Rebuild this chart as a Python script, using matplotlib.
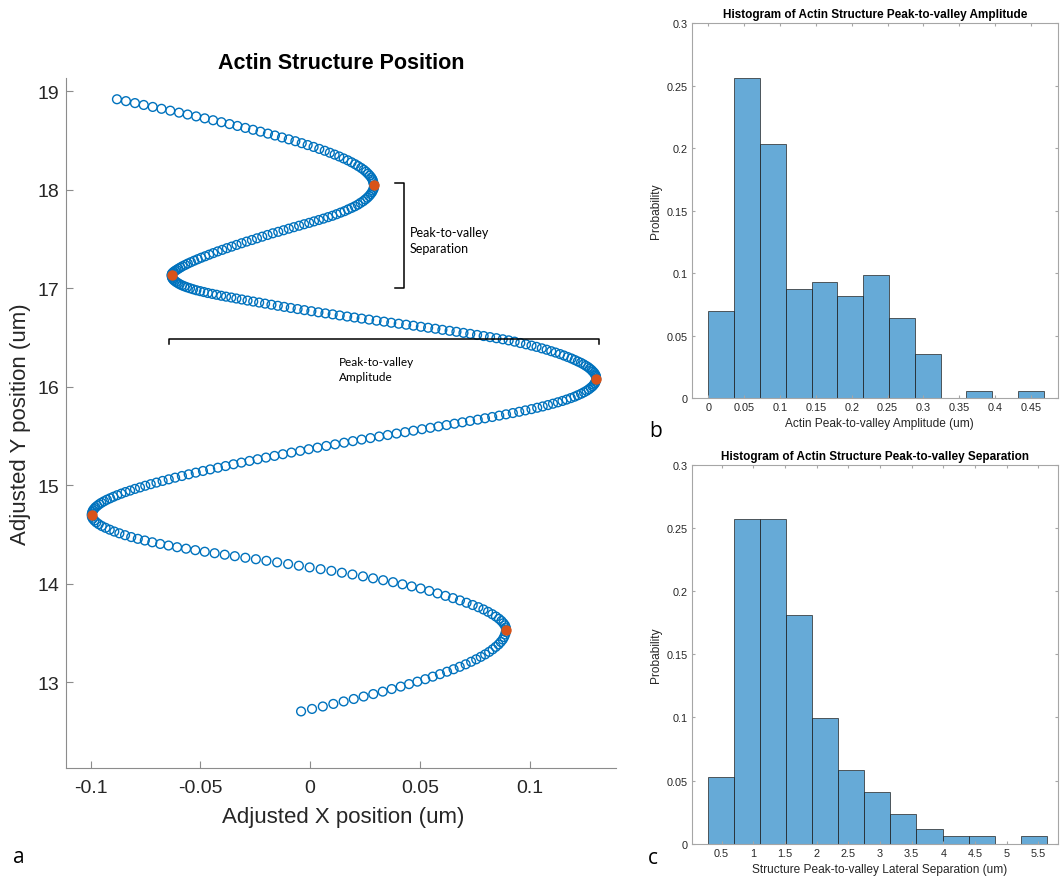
import matplotlib
matplotlib.use('Agg')
import matplotlib.pyplot as plt

# ---- panel a: actin structure track (arm by arm) ----
arm1_x = [-0.0880, -0.0839, -0.0798, -0.0758, -0.0717, -0.0677, -0.0637, -0.0597, -0.0558, -0.0519,
          -0.0480, -0.0442, -0.0404, -0.0367, -0.0331, -0.0295, -0.0260, -0.0226, -0.0192, -0.0160,
          -0.0128, -0.0097, -0.0067, -0.0038, -0.0011, 0.0016, 0.0042, 0.0067, 0.0090, 0.0112,
          0.0133, 0.0153, 0.0172, 0.0189, 0.0205, 0.0219, 0.0233, 0.0245, 0.0255, 0.0264,
          0.0272, 0.0279, 0.0284, 0.0287, 0.0289]
arm1_y = [18.920, 18.901, 18.881, 18.862, 18.842, 18.823, 18.804, 18.784, 18.765, 18.746,
          18.726, 18.707, 18.687, 18.668, 18.649, 18.629, 18.610, 18.591, 18.571, 18.552,
          18.532, 18.513, 18.494, 18.474, 18.455, 18.436, 18.416, 18.397, 18.377, 18.358,
          18.339, 18.319, 18.300, 18.280, 18.261, 18.242, 18.222, 18.203, 18.184, 18.164,
          18.145, 18.125, 18.106, 18.087, 18.067]

arm2_x = [0.0292, 0.0291, 0.0290, 0.0286, 0.0282, 0.0276, 0.0269, 0.0261, 0.0252, 0.0242,
          0.0230, 0.0218, 0.0204, 0.0189, 0.0173, 0.0157, 0.0139, 0.0121, 0.0102, 0.0082,
          0.0061, 0.0040, 0.0018, -0.0004, -0.0027, -0.0050, -0.0074, -0.0097, -0.0121, -0.0145,
          -0.0170, -0.0194, -0.0218, -0.0242, -0.0265, -0.0289, -0.0312, -0.0335, -0.0357, -0.0379,
          -0.0400, -0.0421, -0.0441, -0.0460, -0.0478, -0.0496, -0.0512, -0.0528, -0.0543, -0.0557,
          -0.0569, -0.0581, -0.0591, -0.0600, -0.0608, -0.0615, -0.0621, -0.0625, -0.0629, -0.0630]
arm2_y = [18.048, 18.030, 18.011, 17.993, 17.975, 17.957, 17.938, 17.920, 17.903, 17.885,
          17.868, 17.850, 17.833, 17.817, 17.801, 17.784, 17.769, 17.753, 17.737, 17.723,
          17.708, 17.694, 17.680, 17.665, 17.651, 17.636, 17.621, 17.606, 17.590, 17.574,
          17.559, 17.542, 17.525, 17.508, 17.491, 17.475, 17.458, 17.441, 17.424, 17.408,
          17.391, 17.375, 17.358, 17.342, 17.326, 17.311, 17.296, 17.281, 17.266, 17.252,
          17.238, 17.225, 17.212, 17.200, 17.188, 17.178, 17.168, 17.159, 17.150, 17.142]

arm3_x = [-0.0631, -0.0630, -0.0629, -0.0626, -0.0622, -0.0616, -0.0610, -0.0602, -0.0594, -0.0584,
          -0.0573, -0.0561, -0.0547, -0.0533, -0.0518, -0.0501, -0.0484, -0.0466, -0.0446, -0.0426,
          -0.0405, -0.0383, -0.0359, -0.0336, -0.0311, -0.0285, -0.0259, -0.0232, -0.0205, -0.0176,
          -0.0147, -0.0118, -0.0088, -0.0057, -0.0026, 0.0006, 0.0038, 0.0070, 0.0103, 0.0135,
          0.0169, 0.0202, 0.0235, 0.0269, 0.0303, 0.0337, 0.0370, 0.0404, 0.0438, 0.0471,
          0.0505, 0.0538, 0.0571, 0.0603, 0.0636, 0.0667, 0.0699, 0.0730, 0.0761, 0.0791,
          0.0820, 0.0849, 0.0878, 0.0905, 0.0932, 0.0958, 0.0984, 0.1009, 0.1032, 0.1056,
          0.1078, 0.1099, 0.1119, 0.1139, 0.1157, 0.1174, 0.1191, 0.1206, 0.1220, 0.1234,
          0.1246, 0.1257, 0.1267, 0.1275, 0.1283, 0.1289, 0.1295, 0.1299, 0.1302, 0.1303]
arm3_y = [17.133, 17.121, 17.110, 17.098, 17.086, 17.075, 17.064, 17.053, 17.042, 17.031,
          17.021, 17.011, 17.001, 16.991, 16.981, 16.972, 16.963, 16.953, 16.944, 16.935,
          16.925, 16.916, 16.907, 16.897, 16.887, 16.876, 16.866, 16.856, 16.845, 16.834,
          16.823, 16.812, 16.801, 16.790, 16.779, 16.768, 16.757, 16.746, 16.736, 16.725,
          16.714, 16.704, 16.693, 16.683, 16.672, 16.662, 16.651, 16.641, 16.631, 16.621,
          16.610, 16.600, 16.590, 16.579, 16.569, 16.559, 16.548, 16.538, 16.527, 16.516,
          16.505, 16.494, 16.483, 16.472, 16.459, 16.445, 16.432, 16.419, 16.406, 16.391,
          16.377, 16.362, 16.348, 16.333, 16.318, 16.303, 16.288, 16.273, 16.258, 16.244,
          16.229, 16.214, 16.200, 16.185, 16.170, 16.155, 16.141, 16.126, 16.112, 16.098]

arm4_x = [0.1304, 0.1303, 0.1301, 0.1298, 0.1293, 0.1287, 0.1279, 0.1270, 0.1260, 0.1248,
          0.1235, 0.1220, 0.1205, 0.1188, 0.1169, 0.1150, 0.1129, 0.1107, 0.1084, 0.1060,
          0.1035, 0.1009, 0.0981, 0.0953, 0.0924, 0.0893, 0.0862, 0.0830, 0.0797, 0.0764,
          0.0729, 0.0694, 0.0658, 0.0622, 0.0585, 0.0548, 0.0510, 0.0471, 0.0433, 0.0394,
          0.0354, 0.0315, 0.0275, 0.0235, 0.0195, 0.0155, 0.0114, 0.0074, 0.0034, -0.0006,
          -0.0045, -0.0085, -0.0124, -0.0162, -0.0201, -0.0239, -0.0276, -0.0313, -0.0349, -0.0385,
          -0.0420, -0.0455, -0.0488, -0.0521, -0.0553, -0.0584, -0.0615, -0.0644, -0.0672, -0.0700,
          -0.0726, -0.0751, -0.0775, -0.0798, -0.0820, -0.0841, -0.0860, -0.0879, -0.0896, -0.0911,
          -0.0926, -0.0939, -0.0951, -0.0961, -0.0970, -0.0978, -0.0984, -0.0989, -0.0992, -0.0994]
arm4_y = [16.083, 16.068, 16.052, 16.037, 16.022, 16.006, 15.991, 15.975, 15.960, 15.945,
          15.930, 15.915, 15.900, 15.886, 15.871, 15.857, 15.843, 15.829, 15.815, 15.801,
          15.788, 15.774, 15.761, 15.747, 15.734, 15.721, 15.708, 15.694, 15.681, 15.667,
          15.654, 15.640, 15.626, 15.612, 15.598, 15.584, 15.570, 15.555, 15.540, 15.526,
          15.511, 15.496, 15.480, 15.465, 15.449, 15.433, 15.416, 15.400, 15.383, 15.367,
          15.350, 15.333, 15.316, 15.299, 15.282, 15.265, 15.248, 15.231, 15.214, 15.196,
          15.179, 15.162, 15.146, 15.129, 15.112, 15.095, 15.078, 15.061, 15.045, 15.028,
          15.012, 14.996, 14.979, 14.964, 14.947, 14.932, 14.916, 14.900, 14.884, 14.869,
          14.854, 14.838, 14.823, 14.808, 14.792, 14.777, 14.761, 14.746, 14.731, 14.715]

arm5_x = [-0.0995, -0.0994, -0.0990, -0.0983, -0.0974, -0.0963, -0.0949, -0.0932, -0.0913, -0.0892,
          -0.0869, -0.0843, -0.0815, -0.0785, -0.0753, -0.0719, -0.0683, -0.0645, -0.0606, -0.0565,
          -0.0523, -0.0480, -0.0435, -0.0389, -0.0343, -0.0295, -0.0247, -0.0199, -0.0150, -0.0100,
          -0.0051, -0.0002, 0.0048, 0.0097, 0.0145, 0.0193, 0.0241, 0.0287, 0.0333, 0.0378,
          0.0421, 0.0463, 0.0504, 0.0543, 0.0581, 0.0617, 0.0651, 0.0683, 0.0713, 0.0741,
          0.0767, 0.0790, 0.0811, 0.0830, 0.0847, 0.0861, 0.0872, 0.0881, 0.0888, 0.0892]
arm5_y = [14.700, 14.681, 14.662, 14.643, 14.624, 14.606, 14.587, 14.569, 14.550, 14.531,
          14.513, 14.494, 14.475, 14.457, 14.440, 14.422, 14.405, 14.389, 14.372, 14.357,
          14.342, 14.326, 14.311, 14.296, 14.281, 14.265, 14.250, 14.234, 14.218, 14.201,
          14.184, 14.167, 14.149, 14.132, 14.113, 14.095, 14.076, 14.056, 14.037, 14.017,
          13.995, 13.974, 13.953, 13.928, 13.903, 13.878, 13.855, 13.832, 13.808, 13.785,
          13.763, 13.740, 13.716, 13.692, 13.668, 13.645, 13.623, 13.600, 13.579, 13.557]

arm6_x = [0.0893, 0.0892, 0.0889, 0.0884, 0.0878, 0.0869, 0.0859, 0.0846, 0.0832, 0.0816,
          0.0798, 0.0778, 0.0757, 0.0734, 0.0709, 0.0682, 0.0654, 0.0624, 0.0592, 0.0559,
          0.0525, 0.0489, 0.0451, 0.0413, 0.0372, 0.0331, 0.0288, 0.0244, 0.0199, 0.0153,
          0.0106, 0.0058, 0.0009, -0.0041]
arm6_y = [13.536, 13.511, 13.486, 13.460, 13.435, 13.410, 13.385, 13.360, 13.335, 13.309,
          13.284, 13.259, 13.234, 13.209, 13.183, 13.158, 13.133, 13.108, 13.083, 13.058,
          13.032, 13.007, 12.982, 12.957, 12.932, 12.906, 12.881, 12.856, 12.831, 12.806,
          12.781, 12.755, 12.730, 12.705]

# peaks / valleys (orange)
peak_x = [0.0292, -0.0631, 0.1304, -0.0995, 0.0893]
peak_y = [18.048, 17.133, 16.083, 14.700, 13.536]

# ---- panel b: peak-to-valley amplitude histogram ----
amp_edges = [0, 0.036, 0.072, 0.108, 0.144, 0.180, 0.216, 0.252, 0.288, 0.324, 0.360, 0.396, 0.432, 0.468]
amp_prob = [0.0698, 0.2558, 0.2035, 0.0872, 0.0930, 0.0814, 0.0988, 0.0640, 0.0349, 0, 0.0058, 0, 0.0058]

# ---- panel c: peak-to-valley lateral separation histogram ----
sep_edges = [0.288, 0.699, 1.110, 1.521, 1.932, 2.343, 2.754, 3.165, 3.576, 3.987, 4.398, 4.809, 5.220, 5.631]
sep_prob = [0.0526, 0.2573, 0.2573, 0.1813, 0.0994, 0.0585, 0.0409, 0.0234, 0.0117, 0.0058, 0.0058, 0, 0.0058]

track_x = arm1_x + arm2_x + arm3_x + arm4_x + arm5_x + arm6_x
track_y = arm1_y + arm2_y + arm3_y + arm4_y + arm5_y + arm6_y

plt.rcParams['font.family'] = ['Liberation Sans', 'DejaVu Sans']
plt.rcParams['axes.unicode_minus'] = False

blue = '#0072BD'
orange = '#D95319'
txt = '#262626'

fig = plt.figure(figsize=(10.6, 8.79), dpi=100)

# panel a
ax = fig.add_axes([0.0623, 0.1251, 0.5184, 0.7846])
ax.scatter(track_x, track_y, s=40, facecolors='none', edgecolors=blue, linewidths=1.0)
ax.scatter(peak_x, peak_y, s=42, color=orange, zorder=3)
ax.set_xlim(-0.1112, 0.1392)
ax.set_ylim(12.13, 19.132)
ax.set_xticks([-0.1, -0.05, 0, 0.05, 0.1])
ax.set_xticklabels(['-0.1', '-0.05', '0', '0.05', '0.1'])
ax.set_yticks([13, 14, 15, 16, 17, 18, 19])
ax.spines['top'].set_visible(False)
ax.spines['right'].set_visible(False)
for s in ['left', 'bottom']:
    ax.spines[s].set_color('#8c8c8c')
ax.tick_params(direction='in', length=5, color='#8c8c8c', labelsize=14, labelcolor=txt)
ax.tick_params(axis='x', pad=8)
ax.tick_params(axis='y', pad=5)
ax.set_xlabel('Adjusted X position (um)', fontsize=16, color=txt, va='center')
ax.xaxis.set_label_coords(0.505, -0.070)
ax.set_ylabel('Adjusted Y position (um)', fontsize=16, color=txt, va='center')
ax.yaxis.set_label_coords(-0.083, 0.5)
ax.set_title('Actin Structure Position', fontsize=15.5, fontweight='bold', y=1.0232, va='center', pad=0)

# annotation brackets
ax.plot([0.0385, 0.0428, 0.0428, 0.0385], [18.069, 18.069, 17.002, 17.002], color='black', lw=1.1, clip_on=False)
ax.text(0.0453, 17.49, 'Peak-to-valley\nSeparation', fontsize=9, family='Lato', va='center', ha='left', linespacing=1.45)
ax.plot([-0.0645, -0.0645, 0.1315, 0.1315], [16.436, 16.484, 16.484, 16.436], color='black', lw=1.1, zorder=4)
ax.text(0.0131, 16.179, 'Peak-to-valley\nAmplitude', fontsize=8.5, family='Lato', va='center', ha='left', linespacing=1.4)


def hist_panel(axh, edges, probs, title, xlabel, xticks, xtlabels, xlim):
    widths = [edges[i + 1] - edges[i] for i in range(len(probs))]
    axh.bar(edges[:-1], probs, width=widths, align='edge', facecolor=(0, 0.447, 0.741, 0.6),
            edgecolor=(0.15, 0.15, 0.15, 0.85), linewidth=0.6)
    axh.set_xlim(*xlim)
    axh.set_ylim(0, 0.3)
    axh.set_xticks(xticks)
    axh.set_xticklabels(xtlabels)
    axh.set_yticks([0, 0.05, 0.1, 0.15, 0.2, 0.25, 0.3])
    axh.set_yticklabels(['0', '0.05', '0.1', '0.15', '0.2', '0.25', '0.3'])
    for s in axh.spines.values():
        s.set_color('#a6a6a6')
        s.set_linewidth(0.8)
    axh.tick_params(direction='in', length=2.5, color='#a6a6a6', labelsize=7.8, labelcolor=txt,
                    top=True, right=True, pad=3)
    axh.set_title(title, fontsize=8.5, fontweight='bold', va='center', y=1.024, pad=0)
    axh.set_xlabel(xlabel, fontsize=8.6, color=txt, va='center')
    axh.xaxis.set_label_coords(0.512, -0.067)
    axh.set_ylabel('Probability', fontsize=8.6, color=txt, va='center')
    axh.yaxis.set_label_coords(-0.098, 0.5)


axb = fig.add_axes([0.6528, 0.5461, 0.3453, 0.4263])
hist_panel(axb, amp_edges, amp_prob, 'Histogram of Actin Structure Peak-to-valley Amplitude',
           'Actin Peak-to-valley Amplitude (um)',
           [0, 0.05, 0.1, 0.15, 0.2, 0.25, 0.3, 0.35, 0.4, 0.45],
           ['0', '0.05', '0.1', '0.15', '0.2', '0.25', '0.3', '0.35', '0.4', '0.45'],
           (-0.023, 0.488))

axc = fig.add_axes([0.6528, 0.0390, 0.3453, 0.4308])
hist_panel(axc, sep_edges, sep_prob, 'Histogram of Actin Structure Peak-to-valley Separation',
           'Structure Peak-to-valley Lateral Separation (um)',
           [0.5, 1, 1.5, 2, 2.5, 3, 3.5, 4, 4.5, 5, 5.5],
           ['0.5', '1', '1.5', '2', '2.5', '3', '3.5', '4', '4.5', '5', '5.5'],
           (0.031, 5.81))

# panel letters
fig.text(13 / 1060, 1 - 863 / 879, 'a', fontsize=15, family='Open Sans', va='baseline')
fig.text(649 / 1060, 1 - 437 / 879, 'b', fontsize=15, family='Open Sans', va='baseline')
fig.text(648 / 1060, 1 - 864 / 879, 'c', fontsize=15, family='Open Sans', va='baseline')

fig.savefig('out.png', dpi=100)
